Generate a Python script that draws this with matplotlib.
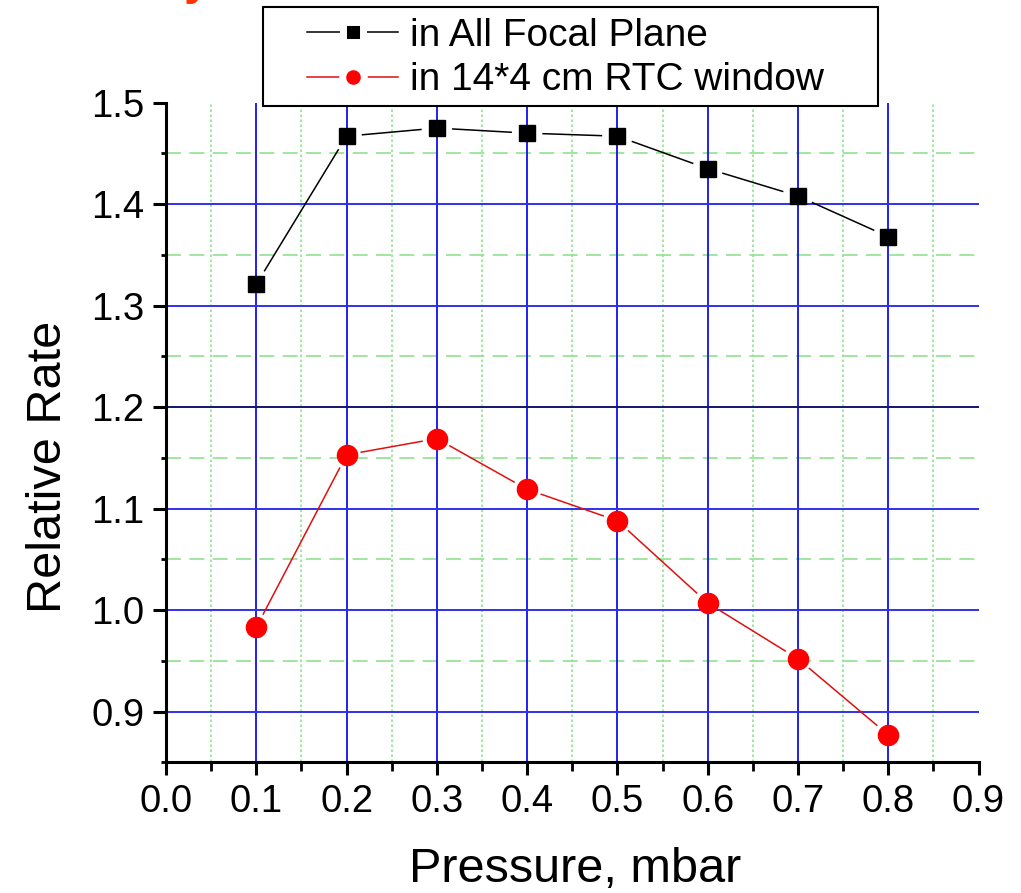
import numpy as np
import matplotlib
matplotlib.use("Agg")
import matplotlib.pyplot as plt
from matplotlib.lines import Line2D
from matplotlib.patches import Rectangle
from matplotlib.ticker import MultipleLocator

plt.rcParams['font.family'] = ['Liberation Sans', 'DejaVu Sans']

# Pressure (mbar) and relative counting rates
pressure = [0.1, 0.2, 0.3, 0.4, 0.5, 0.6, 0.7, 0.8]
rate_focal_plane = [1.321, 1.467, 1.475, 1.470, 1.467, 1.435, 1.408, 1.368]
rate_rtc_window = [0.983, 1.153, 1.169, 1.119, 1.088, 1.007, 0.952, 0.877]

label_focal = "in All Focal Plane"
label_rtc = "in 14*4 cm RTC window"
x_title = "Pressure, mbar"
y_title = "Relative Rate"

xticks = [0.0, 0.1, 0.2, 0.3, 0.4, 0.5, 0.6, 0.7, 0.8, 0.9]
yticks = [0.9, 1.0, 1.1, 1.2, 1.3, 1.4, 1.5]

W, H = 1021, 893
fig = plt.figure(figsize=(W / 100, H / 100), dpi=100)
ax = fig.add_axes([166 / W, 1 - 762.3 / H, 812.5 / W, (762.3 - 102.7) / H])
ax.set_xlim(0.0, 0.9)
ax.set_ylim(0.85, 1.5)

# grid: blue major lines, light green minor lines
minor_green = '#8fe38f'
for xv in np.arange(0.05, 0.9, 0.1):
    ax.axvline(xv, color=minor_green, lw=1.2, ls=(0, (1.5, 1.5)), zorder=1)
for yv in np.arange(0.95, 1.5, 0.1):
    ax.axhline(yv, color=minor_green, lw=1.2, ls=(0, (9, 5)), zorder=1)
for xv in xticks[1:-1]:
    ax.axvline(xv, color='#2020f0', lw=1.4, zorder=2)
for yv in yticks[:-1]:
    col = '#14146e' if abs(yv - 1.2) < 1e-9 else '#3030f0'
    ax.axhline(yv, color=col, lw=1.4, zorder=2)

# spines and ticks
for side in ('top', 'right'):
    ax.spines[side].set_visible(False)
for side in ('left', 'bottom'):
    ax.spines[side].set_linewidth(2.2)
ax.set_xticks(xticks)
ax.set_yticks(yticks)
ax.set_xticklabels([f"{v:.1f}" for v in xticks])
ax.set_yticklabels([f"{v:.1f}" for v in yticks])
ax.xaxis.set_minor_locator(MultipleLocator(0.05))
ax.yaxis.set_minor_locator(MultipleLocator(0.05))
ax.tick_params(which='major', direction='out', length=9.4, width=2.2,
               labelsize=27.5)
ax.tick_params(axis='x', which='major', pad=6)
ax.tick_params(axis='y', which='major', pad=6)
ax.tick_params(axis='x', which='minor', direction='out', length=6.5, width=2.0)
ax.tick_params(axis='y', which='minor', direction='out', length=3.5, width=2.0)

ax.set_xlabel(x_title, fontsize=35)
ax.set_ylabel(y_title, fontsize=35)
ax.xaxis.set_label_coords(0.503, -0.163)
ax.xaxis.label.set_va('center')
ax.yaxis.set_label_coords(-0.144, 0.448)
ax.yaxis.label.set_va('center')


def gapped_segments(xs, ys, gap_px, **kw):
    """Connect consecutive points with segments that stop short of each marker."""
    fig.canvas.draw()
    pts = ax.transData.transform(np.column_stack([xs, ys]))
    inv = ax.transData.inverted()
    for p0, p1 in zip(pts[:-1], pts[1:]):
        d = p1 - p0
        n = np.hypot(*d)
        if n <= 2 * gap_px:
            continue
        u = d / n
        a = inv.transform(p0 + u * gap_px)
        b = inv.transform(p1 - u * gap_px)
        ax.plot([a[0], b[0]], [a[1], b[1]], **kw)


gapped_segments(pressure, rate_focal_plane, 16, color='black', lw=1.1, zorder=3)
gapped_segments(pressure, rate_rtc_window, 15, color='#e01010', lw=1.1, zorder=3)
ax.plot(pressure, rate_focal_plane, ls='none', marker='s', ms=12,
        color='black', zorder=4)
ax.plot(pressure, rate_rtc_window, ls='none', marker='o', ms=14.5,
        color='#ff0000', mec='#ff0000', zorder=4)

# legend box placed across the top edge of the plot
fig.add_artist(Rectangle((263 / W, 1 - 106 / H), (878 - 263) / W, 99 / H,
                         transform=fig.transFigure, facecolor='white',
                         edgecolor='black', lw=1.5, zorder=5))
# white marker rims leave a small gap between the handle line and its marker
leg_handles = [
    Line2D([0], [0], color='black', lw=1.1, marker='s', ms=14,
           markevery=[1], markerfacecolor='black', markeredgecolor='white',
           markeredgewidth=5),
    Line2D([0], [0], color='#e01010', lw=1.1, marker='o', ms=15.5,
           markevery=[1], markerfacecolor='#ff0000', markeredgecolor='white',
           markeredgewidth=5),
]
for h in leg_handles:
    h.set_data([0, 0.5, 1], [0, 0, 0])
leg = fig.legend(leg_handles, [label_focal, label_rtc],
                 loc='center left', bbox_to_anchor=(307 / W, 1 - 58 / H),
                 bbox_transform=fig.transFigure, fontsize=28,
                 frameon=False, handlelength=2.35, handletextpad=0.3,
                 labelspacing=0.22, borderpad=0, borderaxespad=0)
leg.set_zorder(6)

# fragment of the slide heading above the chart
fig.text(197 / W, 1 + 6 / H, "y", color='#ff3300', fontsize=34,
         fontweight='bold', ha='center', va='baseline')

fig.savefig("out.png", dpi=100)
